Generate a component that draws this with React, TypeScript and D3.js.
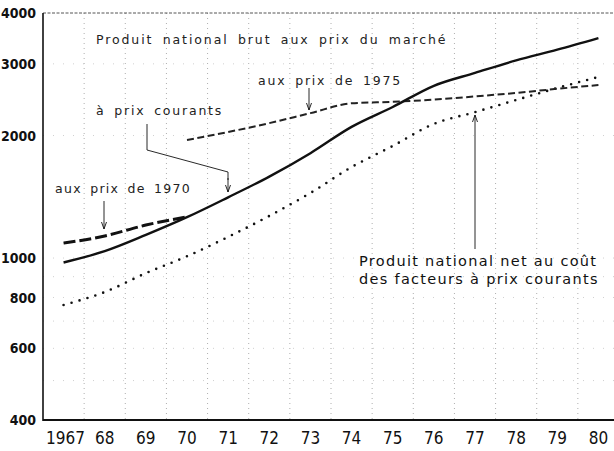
import React from "react";
import * as d3 from "d3";

const years = [1967, 1968, 1969, 1970, 1971, 1972, 1973, 1974, 1975, 1976, 1977, 1978, 1979, 1980];
const yearLabels = ["1967", "68", "69", "70", "71", "72", "73", "74", "75", "76", "77", "78", "79", "80"];
// PNB aux prix du marché, à prix courants
const pnbCourants = [975, 1040, 1140, 1260, 1410, 1585, 1810, 2100, 2350, 2650, 2850, 3060, 3250, 3470];
// PNB aux prix de 1970
const pnb1970Years = [1967, 1968, 1969, 1970];
const pnb1970 = [1088, 1133, 1205, 1262];
// PNB aux prix de 1975
const pnb1975Years = [1970, 1971, 1972, 1973, 1974, 1975, 1976, 1977, 1978, 1979, 1980];
const pnb1975 = [1950, 2040, 2145, 2270, 2400, 2420, 2450, 2495, 2545, 2605, 2660];
// Produit national net au coût des facteurs à prix courants
const pnn = [767, 825, 918, 1010, 1127, 1269, 1445, 1673, 1885, 2136, 2283, 2445, 2617, 2785];
const yTicks = [400, 600, 800, 1000, 2000, 3000, 4000];
const yGrid = [500, 600, 700, 800, 900, 1000, 2000, 3000];

const W = 614, H = 451;
const x = d3.scaleLinear().domain([1966.5, 1980.5]).range([43, 619]);
const y = d3.scaleLog().domain([400, 4000]).range([420, 13]);

const numFont = "'Liberation Sans Narrow', 'DejaVu Sans Condensed', 'Roboto Condensed', sans-serif";
const txtFont = "'DejaVu Sans', 'Liberation Sans', sans-serif";

function lineOf(xs: number[], vs: number[]) {
  const g = d3.line<number>().x((_, i) => x(xs[i])).y((v) => y(v)).curve(d3.curveMonotoneX);
  return g(vs) || "";
}

function Arrow({ x0, y0, x1, y1 }: { x0: number; y0: number; x1: number; y1: number }) {
  const dir = y1 > y0 ? 1 : -1;
  return (
    <g stroke="#111" strokeWidth={0.9} fill="none">
      <line x1={x0} y1={y0} x2={x1} y2={y1} />
      <path d={`M${x1 - 2.5},${y1 - dir * 7} L${x1},${y1} L${x1 + 2.5},${y1 - dir * 7}`} />
    </g>
  );
}

export default function App() {
  const halfYears = d3.range(1967.5, 1980.5, 1);
  return (
    <svg width={W} height={H} style={{ position: "absolute", left: 0, top: 0, background: "#fff" }}>
      <rect width={W} height={H} fill="#fff" />
      {/* grid */}
      {halfYears.map((h) => (
        <line key={h} x1={x(h)} x2={x(h)} y1={y(4000)} y2={y(400)} stroke="#999" strokeWidth={0.8} strokeDasharray="1 4" />
      ))}
      {yGrid.map((v) => (
        <line key={v} x1={43} x2={W} y1={y(v)} y2={y(v)} stroke="#bbb" strokeWidth={0.7} strokeDasharray="1 9" />
      ))}
      {/* top border */}
      <line x1={43} x2={W} y1={y(4000)} y2={y(4000)} stroke="#555" strokeWidth={1} strokeDasharray="3 1.5" />
      {/* axes */}
      <line x1={43} x2={43} y1={y(4000)} y2={y(400) + 1} stroke="#111" strokeWidth={1.6} />
      <line x1={43} x2={W} y1={y(400)} y2={y(400)} stroke="#111" strokeWidth={1.8} />
      {yTicks.map((v) => (
        <text key={v} x={36} y={y(v)} dy="0.36em" textAnchor="end" fontFamily={numFont} fontSize={14} fontWeight="bold" fill="#111">
          {v}
        </text>
      ))}
      {years.map((yr, i) => (
        <text key={yr} x={x(yr) + (i === 0 ? 2 : 0)} y={438} dy="0.36em" textAnchor="middle" fontFamily={numFont} fontSize={17} fill="#111">
          {yearLabels[i]}
        </text>
      ))}
      {/* series */}
      <path d={lineOf(years, pnn)} fill="none" stroke="#111" strokeWidth={2.6} strokeLinecap="round" strokeDasharray="0 8.3" />
      <path d={lineOf(pnb1975Years, pnb1975)} fill="none" stroke="#222" strokeWidth={2} strokeDasharray="7 3.5" />
      <path d={lineOf(pnb1970Years, pnb1970)} fill="none" stroke="#111" strokeWidth={3} strokeDasharray="12 4" />
      <path d={lineOf(years, pnbCourants)} fill="none" stroke="#111" strokeWidth={2.4} />
      {/* annotations */}
      <text x={96} y={44} fontFamily={txtFont} fontSize={12.5} letterSpacing={1.9} wordSpacing={3.5} fill="#222">
        Produit national brut aux prix du marché
      </text>
      <text x={258} y={85} fontFamily={txtFont} fontSize={12.5} letterSpacing={1.8} wordSpacing={3} fill="#222">
        aux prix de 1975
      </text>
      <Arrow x0={309} y0={88} x1={309} y1={110} />
      <text x={96} y={115} fontFamily={txtFont} fontSize={12.5} letterSpacing={1.8} wordSpacing={3} fill="#222">
        à prix courants
      </text>
      <polyline points="147,124 147,150 228,172 228,180" fill="none" stroke="#111" strokeWidth={0.9} />
      <Arrow x0={228} y0={178} x1={228} y1={192} />
      <text x={55} y={193} fontFamily={txtFont} fontSize={12.5} letterSpacing={1.3} wordSpacing={3} fill="#222">
        aux prix de 1970
      </text>
      <Arrow x0={104} y0={201} x1={104} y1={229} />
      <Arrow x0={475} y0={249} x1={475} y1={115} />
      <text x={359} y={266} fontFamily={txtFont} fontSize={14.5} letterSpacing={1.3} fill="#111">
        Produit national net au coût
      </text>
      <text x={359} y={284} fontFamily={txtFont} fontSize={14.5} letterSpacing={1.3} fill="#111">
        des facteurs à prix courants
      </text>
    </svg>
  );
}
